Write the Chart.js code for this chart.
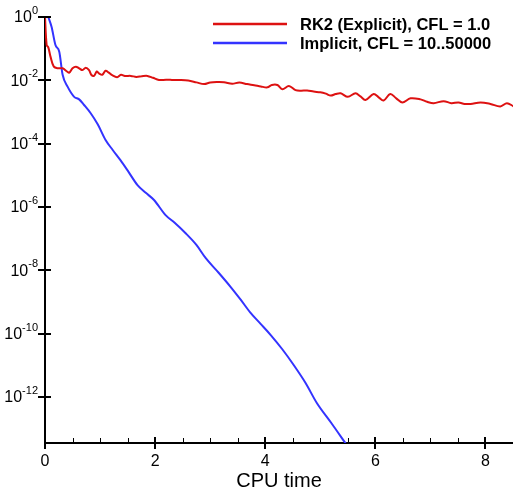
<!DOCTYPE html>
<html lang="en">
<head>
<meta charset="UTF-8">
<title>Convergence history</title>
<style>
  body { margin: 0; padding: 0; background: #fff; }
  .wrap { width: 513px; height: 493px; }
</style>
</head>
<body>
<div class="wrap">
  <canvas id="chart" width="513" height="493"></canvas>
</div>
<script src="https://cdn.jsdelivr.net/npm/chart.js@4.4.0/dist/chart.umd.min.js"></script>
<script>
(function () {
  'use strict';

  // residual history
  var rk2Time = [0, 0.03, 0.06, 0.10, 0.16, 0.24, 0.32, 0.40, 0.44, 0.50, 0.56, 0.62, 0.68, 0.74, 0.80,
    0.84, 0.89, 0.94, 0.98, 1.04, 1.10, 1.16, 1.22, 1.31, 1.38, 1.45, 1.56, 1.66, 1.76, 1.86, 1.96,
    2.07, 2.20, 2.33, 2.46, 2.60, 2.75, 2.89, 3.00, 3.12, 3.25, 3.40, 3.53, 3.67, 3.80, 3.92, 4.04,
    4.12, 4.22, 4.31, 4.43, 4.55, 4.65, 4.76, 4.88, 5.00, 5.10, 5.19, 5.28, 5.37, 5.50, 5.64, 5.73,
    5.82, 5.97, 6.06, 6.15, 6.27, 6.38, 6.49, 6.64, 6.82, 6.94, 7.06, 7.24, 7.38, 7.51, 7.62, 7.73,
    7.91, 8.09, 8.27, 8.39, 8.51];
  var rk2Res = [1.0, 0.13, 0.11, 0.056, 0.027, 0.024, 0.024, 0.019, 0.0174, 0.024, 0.027, 0.024, 0.021, 0.025, 0.021,
    0.015, 0.0138, 0.019, 0.0166, 0.015, 0.020, 0.0174, 0.0145, 0.0126, 0.015, 0.0138, 0.0138, 0.0128, 0.0135, 0.0138, 0.012,
    0.0102, 0.0105, 0.0102, 0.0102, 0.0098, 0.0086, 0.0076, 0.0085, 0.0088, 0.0087, 0.0078, 0.0085, 0.0076, 0.0070, 0.0064, 0.0060,
    0.0071, 0.0071, 0.0052, 0.0066, 0.0049, 0.0047, 0.0048, 0.0044, 0.0042, 0.0038, 0.0033, 0.0037, 0.0039, 0.0030, 0.0039, 0.0031,
    0.0024, 0.0037, 0.0029, 0.0023, 0.0037, 0.0027, 0.0020, 0.0027, 0.0025, 0.0021, 0.0019, 0.0022, 0.0019, 0.0020, 0.0018, 0.0018,
    0.0020, 0.0018, 0.0015, 0.0019, 0.0015];

  var implTime = [0.06, 0.12, 0.19, 0.26, 0.32, 0.41, 0.53, 0.62, 0.71, 0.83, 0.96, 1.10, 1.23, 1.37, 1.52,
    1.68, 1.83, 1.98, 2.19, 2.35, 2.55, 2.75, 2.92, 3.15, 3.37, 3.55, 3.73, 3.92, 4.10, 4.31, 4.52,
    4.73, 4.94, 5.20, 5.46];
  var implRes = [1.0, 0.48, 0.13, 0.079, 0.015, 0.0063, 0.003, 0.0025, 0.00166, 0.00091, 0.0004, 1.3e-4, 6.3e-5, 3.0e-5, 1.26e-5,
    4.9e-6, 2.8e-6, 1.66e-6, 5.5e-7, 3.2e-7, 1.5e-7, 6.3e-8, 2.4e-8, 8.5e-9, 3.0e-9, 1.2e-9, 4.6e-10, 2.0e-10, 9.0e-11, 3.2e-11, 1.0e-11,
    2.8e-12, 6.3e-13, 1.5e-13, 3.4e-14];

  var xTicks = [0, 2, 4, 6, 8];
  var yExponents = [0, -2, -4, -6, -8, -10, -12];
  var seriesNames = ['RK2 (Explicit), CFL = 1.0', 'Implicit, CFL = 10..50000'];
  var seriesColors = ['#dd1111', '#3333ff'];

  var FONT = '"Liberation Sans", Arial, sans-serif';

  function pairs(xs, ys) {
    return xs.map(function (x, i) { return { x: x, y: ys[i] }; });
  }

  // tick marks: majors cross the axis, minors sit inside
  var tickMarks = {
    id: 'tickMarks',
    afterDraw: function (chart) {
      var ctx = chart.ctx;
      var xs = chart.scales.x, ys = chart.scales.y;
      var area = chart.chartArea;
      ctx.save();
      ctx.strokeStyle = '#000';
      ctx.lineWidth = 2;
      ctx.beginPath();
      xTicks.forEach(function (v) {
        var px = Math.round(xs.getPixelForValue(v));
        ctx.moveTo(px, area.bottom - 6);
        ctx.lineTo(px, area.bottom + 6);
      });
      yExponents.forEach(function (e) {
        var py = Math.round(ys.getPixelForValue(Math.pow(10, e)));
        ctx.moveTo(area.left - 7, py);
        ctx.lineTo(area.left + 6, py);
      });
      ctx.stroke();
      ctx.lineWidth = 1;
      ctx.beginPath();
      for (var v = 0.5; v < xs.max; v += 0.5) {
        if (v % 2 === 0) continue;
        var px = Math.round(xs.getPixelForValue(v)) + 0.5;
        ctx.moveTo(px, area.bottom);
        ctx.lineTo(px, area.bottom - 5);
      }
      ctx.stroke();
      ctx.restore();
    }
  };

  // y labels as 10 with a raised exponent
  var powerLabels = {
    id: 'powerLabels',
    afterDraw: function (chart) {
      var ctx = chart.ctx;
      var ys = chart.scales.y;
      var right = chart.chartArea.left - 7;
      ctx.save();
      ctx.fillStyle = '#000';
      ctx.textBaseline = 'middle';
      ctx.textAlign = 'left';
      yExponents.forEach(function (e) {
        var py = ys.getPixelForValue(Math.pow(10, e));
        var expText = e === 0 ? '0' : '-' + Math.abs(e);
        ctx.font = '11px ' + FONT;
        var ew = ctx.measureText(expText).width;
        ctx.font = '16px ' + FONT;
        var bw = ctx.measureText('10').width;
        var x0 = right - ew - bw;
        ctx.fillText('10', x0, py + 1);
        ctx.font = '11px ' + FONT;
        ctx.fillText(expText, x0 + bw, py - 6);
      });
      ctx.restore();
    }
  };

  // legend box in the top right corner
  var insideLegend = {
    id: 'insideLegend',
    afterDraw: function (chart) {
      var ctx = chart.ctx;
      ctx.save();
      ctx.font = 'bold 16.5px ' + FONT;
      ctx.textBaseline = 'middle';
      ctx.textAlign = 'left';
      seriesNames.forEach(function (name, i) {
        var y = 24 + i * 19;
        ctx.strokeStyle = seriesColors[i];
        ctx.lineWidth = 2.5;
        ctx.beginPath();
        ctx.moveTo(213, y);
        ctx.lineTo(287, y);
        ctx.stroke();
        ctx.fillStyle = '#000';
        ctx.fillText(name, 300, y + 1);
      });
      ctx.restore();
    }
  };

  var ctx = document.getElementById('chart').getContext('2d');

  new Chart(ctx, {
    type: 'line',
    data: {
      datasets: [
        {
          label: seriesNames[0],
          data: pairs(rk2Time, rk2Res),
          borderColor: seriesColors[0],
          borderWidth: 2,
          pointRadius: 0,
          tension: 0.35,
          fill: false
        },
        {
          label: seriesNames[1],
          data: pairs(implTime, implRes),
          borderColor: seriesColors[1],
          borderWidth: 2,
          pointRadius: 0,
          cubicInterpolationMode: 'monotone',
          fill: false
        }
      ]
    },
    options: {
      responsive: false,
      animation: false,
      layout: { padding: { top: 17, right: 0, left: 0, bottom: 0 } },
      plugins: {
        legend: { display: false },
        tooltip: { enabled: false }
      },
      scales: {
        x: {
          type: 'linear',
          min: 0,
          max: 8.5,
          afterBuildTicks: function (scale) {
            scale.ticks = xTicks.map(function (v) { return { value: v }; });
          },
          afterFit: function (scale) { scale.height = 50; },
          grid: { display: false, drawTicks: false },
          border: { display: true, color: '#000', width: 2 },
          ticks: {
            padding: 9,
            color: '#000',
            maxRotation: 0,
            font: { family: FONT, size: 16 }
          },
          title: {
            display: true,
            text: 'CPU time',
            color: '#000',
            padding: { top: 0, bottom: 0 },
            font: { family: FONT, size: 20 }
          }
        },
        y: {
          type: 'logarithmic',
          min: 3.5e-14,
          max: 1,
          afterBuildTicks: function (scale) {
            scale.ticks = yExponents.map(function (e) { return { value: Math.pow(10, e) }; });
          },
          afterFit: function (scale) { scale.width = 45; },
          grid: { display: false, drawTicks: false },
          border: { display: true, color: '#000', width: 2 },
          ticks: {
            display: false
          }
        }
      }
    },
    plugins: [tickMarks, powerLabels, insideLegend]
  });
})();
</script>
</body>
</html>
